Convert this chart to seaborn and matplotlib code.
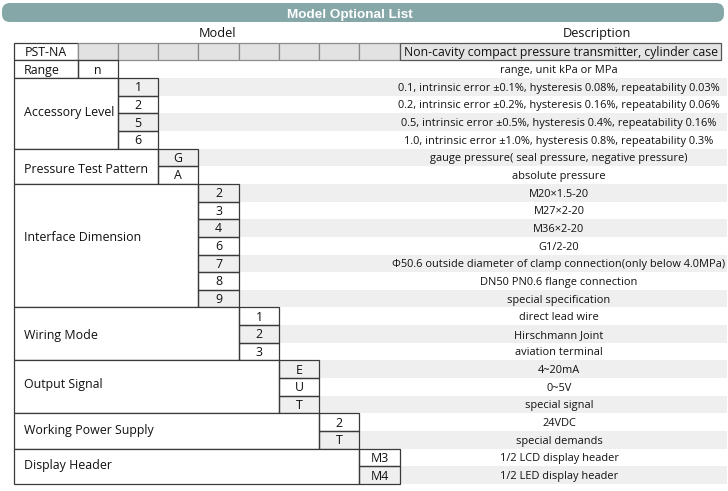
import matplotlib
matplotlib.use("Agg")
import matplotlib.pyplot as plt
from matplotlib.patches import Rectangle, FancyBboxPatch
import seaborn as sns
import pandas as pd
import numpy as np

# ---------------- data ----------------
title = "Model Optional List"
header_model = "Model"
header_desc = "Description"
model_name = "PST-NA"
model_desc = "Non-cavity compact pressure transmitter, cylinder case"

group_names = ["Range", "Accessory Level", "Pressure Test Pattern", "Interface Dimension",
               "Wiring Mode", "Output Signal", "Working Power Supply", "Display Header"]
range_codes = ["n"]
accessory_codes = ["1", "2", "5", "6"]
pattern_codes = ["G", "A"]
interface_codes = ["2", "3", "4", "6", "7", "8", "9"]
wiring_codes = ["1", "2", "3"]
output_codes = ["E", "U", "T"]
power_codes = ["2", "T"]
display_codes = ["M3", "M4"]

range_desc = ["range, unit kPa or MPa"]
accessory_desc = ["0.1, intrinsic error \u00b10.1%, hysteresis 0.08%, repeatability 0.03%",
                  "0.2, intrinsic error \u00b10.2%, hysteresis 0.16%, repeatability 0.06%",
                  "0.5, intrinsic error \u00b10.5%, hysteresis 0.4%, repeatability 0.16%",
                  "1.0, intrinsic error \u00b11.0%, hysteresis 0.8%, repeatability 0.3%"]
pattern_desc = ["gauge pressure( seal pressure, negative pressure)", "absolute pressure"]
interface_desc = ["M20\u00d71.5-20", "M27\u00d72-20", "M36\u00d72-20", "G1/2-20",
                  "\u03a650.6 outside diameter of clamp connection(only below 4.0MPa)",
                  "DN50 PN0.6 flange connection", "special specification"]
wiring_desc = ["direct lead wire", "Hirschmann Joint", "aviation terminal"]
output_desc = ["4~20mA", "0~5V", "special signal"]
power_desc = ["24VDC", "special demands"]
display_desc = ["1/2 LCD display header", "1/2 LED display header"]

group_codes = [range_codes, accessory_codes, pattern_codes, interface_codes,
               wiring_codes, output_codes, power_codes, display_codes]
group_descs = [range_desc, accessory_desc, pattern_desc, interface_desc,
               wiring_desc, output_desc, power_desc, display_desc]

# ---------------- layout (pixels) ----------------
W, H = 728, 491
col_x = [14, 78, 118, 158, 198, 239, 279, 319, 359, 400]
desc_right = 721
stripe_right = 727
row_top0 = 42.7
row_h = 17.65
desc_cx = 559
label_x = 24
label_shift = [0.0, -0.085, 0.14, -0.52, 0.057, -0.17, -0.085, -0.11]  # in rows

edge_dark = "#3a3a3a"
edge_gray = "#8c8c8c"
stripe_col = "#efefef"
cell_gray = "#e2e2e2"
title_col = "#86a7a8"
txt = "#111111"

FS_LABEL = 8.9
FS_DESC = 7.9
FS_HEAD = 9.2

sns.set_theme(style="white")
plt.rcParams["font.family"] = ["Open Sans", "DejaVu Sans"]

fig = plt.figure(figsize=(W / 100, H / 100), dpi=100)
ax = fig.add_axes([0, 0, 1, 1])


def ry(r):
    return row_top0 + r * row_h


def put(x, y, s, fs, ha="center", **kw):
    # vertically centre on cap height using the baseline
    base = y + 0.357 * fs * 100 / 72
    ax.text(x, base, s, fontsize=fs, ha=ha, va="baseline", color=kw.pop("color", txt),
            zorder=4, **kw)


# build row table
rows = []
r = 1
for gi, (codes, descs) in enumerate(zip(group_codes, group_descs)):
    for c, d in zip(codes, descs):
        rows.append(dict(row=r, group=gi, code=c, desc=d))
        r += 1
df = pd.DataFrame(rows)
df["center"] = ry(df["row"] + 0.5)
striped = df[df["row"] % 2 == 0].copy()
striped["extent"] = stripe_right

# alternating stripes via seaborn
sns.barplot(data=striped, x="extent", y="center", orient="h", native_scale=True,
            width=0.5, color=stripe_col, saturation=1, linewidth=0, ax=ax, errorbar=None)

ax.set_xlim(0, W)
ax.set_ylim(H, 0)
ax.axis("off")

# white left margin
ax.add_patch(Rectangle((0, 0), col_x[0], H, facecolor="white", edgecolor="none", zorder=2))

# title bar
ax.add_patch(FancyBboxPatch((2, 3), 722, 19, boxstyle="round,pad=0,rounding_size=8",
                            facecolor=title_col, edgecolor="none", zorder=3))
put(350, 12.8, title, 9.7, color="white", fontweight="bold", family=["Liberation Sans"])
put(217, 32.5, header_model, FS_HEAD)
put(597, 32.5, header_desc, FS_HEAD)

# model row
ax.add_patch(Rectangle((col_x[0], ry(0)), col_x[1] - col_x[0], row_h, facecolor="white",
                       edgecolor=edge_dark, lw=0.9, zorder=3))
put((col_x[0] + col_x[1]) / 2, ry(0.5), model_name, FS_LABEL)
for i in range(1, len(col_x) - 1):
    ax.add_patch(Rectangle((col_x[i], ry(0)), col_x[i + 1] - col_x[i], row_h,
                           facecolor=cell_gray, edgecolor=edge_gray, lw=0.9, zorder=3))
ax.add_patch(Rectangle((col_x[-1], ry(0)), desc_right - col_x[-1], row_h,
                       facecolor="#e4e4e4", edgecolor="#555555", lw=0.9, zorder=3))
put((col_x[-1] + desc_right) / 2, ry(0.5), model_desc, 8.8)

# groups
for gi, name in enumerate(group_names):
    sub = df[df["group"] == gi]
    r0, r1 = sub["row"].min(), sub["row"].max() + 1
    cl, cr = col_x[gi + 1], col_x[gi + 2]
    ax.add_patch(Rectangle((col_x[0], ry(r0)), cl - col_x[0], ry(r1) - ry(r0),
                           facecolor="white", edgecolor=edge_dark, lw=0.9, zorder=3))
    ly = (r0 + r1) / 2 + label_shift[gi]
    put(label_x, ry(ly), name, FS_LABEL, ha="left")
    for _, row in sub.iterrows():
        ax.add_patch(Rectangle((cl, ry(row["row"])), cr - cl, row_h, facecolor="none",
                               edgecolor=edge_dark, lw=0.9, zorder=3))
        put((cl + cr) / 2, row["center"], row["code"], FS_LABEL)
        put(desc_cx, row["center"], row["desc"], FS_DESC)

fig.savefig("out.png", dpi=100)
